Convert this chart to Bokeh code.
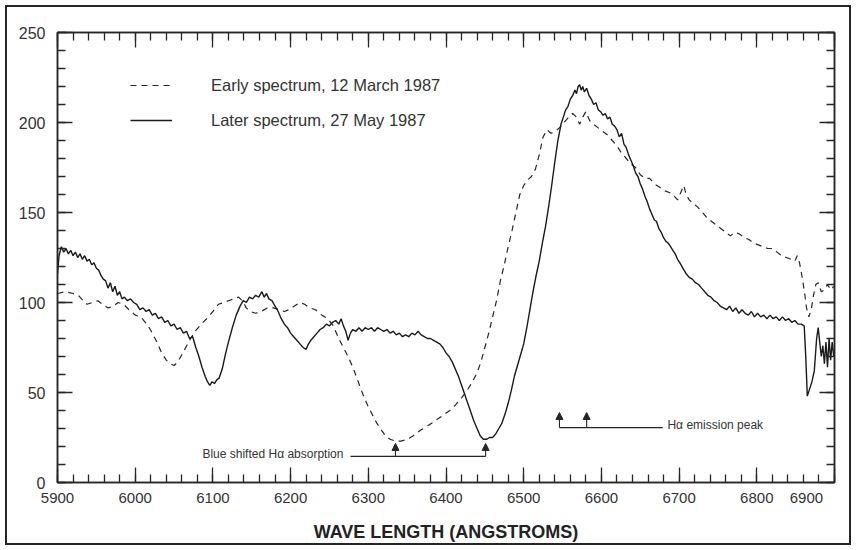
from bokeh.plotting import figure
from bokeh.models import (Range1d, LinearAxis, SingleIntervalTicker, Legend, LegendItem,
                          Arrow, NormalHead, ColumnDataSource, Label)
from bokeh.embed import file_html
from bokeh.resources import INLINE

# ---------------- data ----------------
later_wl = [5900, 5902, 5905, 5908, 5911, 5914, 5917, 5920, 5923, 5926, 5929, 5932, 5935, 5938, 5941,
            5944, 5947, 5950, 5953, 5956, 5959, 5962, 5965, 5968, 5971, 5974, 5977, 5980, 5983, 5986,
            5990, 5994, 5998, 6002, 6006, 6010, 6014, 6018, 6022, 6026, 6030, 6034, 6038, 6042, 6046,
            6050, 6054, 6058, 6062, 6066, 6070, 6074, 6078, 6082, 6086, 6090, 6093, 6096, 6099, 6102,
            6105, 6108, 6112, 6116, 6120, 6125, 6130, 6135, 6139, 6143, 6147, 6151, 6155, 6159, 6163,
            6166, 6169, 6172, 6176, 6180, 6184, 6188, 6192, 6196, 6200, 6204, 6208, 6212, 6216, 6220,
            6223, 6226, 6230, 6234, 6238, 6242, 6246, 6250, 6254, 6258, 6262, 6265, 6268, 6271, 6274,
            6277, 6280, 6284, 6288, 6292, 6296, 6300, 6304, 6308, 6312, 6316, 6320, 6324, 6328, 6332,
            6336, 6340, 6344, 6348, 6352, 6356, 6360, 6364, 6368, 6372, 6376, 6380, 6384, 6388, 6392,
            6396, 6400, 6404, 6408, 6412, 6416, 6420, 6424, 6428, 6432, 6436, 6440, 6444, 6448, 6452,
            6456, 6460, 6464, 6468, 6472, 6476, 6480, 6484, 6488, 6492, 6496, 6500, 6504, 6508, 6512,
            6516, 6520, 6524, 6528, 6532, 6536, 6540, 6544, 6548, 6551, 6554, 6557, 6560, 6563, 6566,
            6568, 6570, 6572, 6574, 6576, 6578, 6581, 6584, 6587, 6590, 6593, 6596, 6599, 6602, 6605,
            6608, 6611, 6614, 6617, 6620, 6623, 6626, 6629, 6632, 6635, 6638, 6641, 6644, 6647, 6650,
            6653, 6656, 6659, 6662, 6665, 6668, 6671, 6674, 6677, 6680, 6683, 6686, 6689, 6692, 6695,
            6698, 6701, 6705, 6709, 6713, 6717, 6721, 6725, 6729, 6733, 6737, 6741, 6745, 6749, 6753,
            6757, 6761, 6765, 6769, 6773, 6777, 6781, 6785, 6789, 6793, 6797, 6801, 6805, 6809, 6813,
            6817, 6821, 6825, 6829, 6833, 6837, 6841, 6845, 6849, 6853, 6857, 6861, 6863, 6865, 6868,
            6871, 6874, 6877, 6879, 6881, 6883, 6885, 6887, 6889, 6891, 6893, 6895, 6897, 6899]
later_val = [116, 126, 131, 128, 130, 127, 129, 126, 128, 125, 127, 124, 126, 123, 124,
             121, 122, 119, 118, 115, 113, 112, 108, 111, 106, 109, 104, 106, 102, 103,
             101, 102, 100, 99, 96, 97, 95, 96, 93, 94, 91, 92, 89, 90, 87,
             88, 85, 86, 83, 84, 80, 81, 75, 70, 64, 59, 56, 54, 56, 55,
             57, 58, 63, 71, 78, 86, 93, 98, 101, 100, 103, 102, 104, 103, 106,
             103, 105, 102, 101, 98, 95, 91, 88, 86, 83, 81, 79, 77, 75, 74,
             77, 79, 81, 83, 85, 86, 88, 87, 89, 90, 88, 91, 87, 84, 79,
             83, 85, 84, 86, 84, 86, 85, 86, 84, 86, 85, 84, 85, 83, 84,
             82, 83, 81, 82, 81, 83, 82, 84, 82, 81, 80, 80, 79, 78, 77,
             75, 72, 70, 67, 63, 59, 54, 49, 44, 39, 34, 30, 26, 24, 24,
             25, 25, 27, 30, 33, 38, 44, 51, 59, 65, 71, 77, 86, 96, 106,
             115, 123, 133, 142, 153, 165, 178, 190, 199, 203, 207, 209, 213, 215, 218,
             216, 220, 221, 218, 220, 217, 219, 215, 213, 210, 211, 207, 206, 204, 205,
             202, 203, 199, 198, 196, 192, 194, 188, 186, 182, 179, 176, 172, 170, 166,
             163, 159, 156, 152, 149, 146, 145, 141, 139, 136, 134, 133, 131, 129, 127,
             124, 122, 119, 116, 114, 113, 111, 110, 108, 106, 104, 103, 101, 100, 98,
             97, 96, 98, 95, 97, 94, 96, 94, 93, 95, 92, 94, 92, 93, 91,
             93, 91, 92, 90, 92, 90, 91, 89, 90, 88, 88, 87, 70, 48, 52,
             56, 62, 80, 86, 78, 70, 76, 66, 78, 64, 80, 68, 78, 70]

early_wl = [5900, 5910, 5920, 5927, 5933, 5938, 5945, 5952, 5958, 5965, 5972, 5978, 5985, 5992, 6000,
            6007, 6013, 6018, 6022, 6028, 6034, 6040, 6045, 6050, 6055, 6060, 6065, 6070, 6077, 6085,
            6092, 6100, 6107, 6114, 6120, 6127, 6133, 6138, 6143, 6148, 6155, 6162, 6170, 6178, 6185,
            6192, 6198, 6205, 6212, 6218, 6225, 6232, 6240, 6248, 6255, 6262, 6268, 6275, 6281, 6287,
            6293, 6300, 6306, 6311, 6317, 6322, 6328, 6335, 6342, 6350, 6358, 6367, 6375, 6385, 6395,
            6405, 6412, 6420, 6427, 6434, 6440, 6445, 6450, 6455, 6460, 6465, 6470, 6475, 6480, 6485,
            6490, 6495, 6500, 6505, 6510, 6515, 6520, 6525, 6530, 6535, 6540, 6546, 6552, 6558, 6563,
            6568, 6572, 6576, 6580, 6585, 6590, 6596, 6602, 6608, 6614, 6620, 6626, 6632, 6638, 6644,
            6650, 6656, 6662, 6668, 6675, 6682, 6688, 6694, 6698, 6702, 6706, 6709, 6713, 6718, 6724,
            6730, 6736, 6742, 6748, 6754, 6760, 6766, 6772, 6778, 6784, 6790, 6796, 6802, 6808, 6814,
            6820, 6826, 6832, 6838, 6844, 6849, 6852, 6855, 6858, 6861, 6864, 6867, 6870, 6873, 6876,
            6879, 6883, 6887, 6891, 6895, 6899]
early_val = [105, 106, 105, 104, 101, 99, 100, 101, 99, 97, 98, 100, 99, 96, 93,
             92, 89, 86, 83, 78, 72, 68, 66, 65, 67, 71, 75, 79, 84, 88,
             91, 95, 99, 100, 101, 102, 103, 101, 97, 95, 94, 95, 97, 97, 96,
             95, 96, 98, 100, 99, 97, 96, 93, 91, 87, 80, 75, 69, 63, 56,
             49, 42, 37, 33, 29, 26, 24, 23, 23, 24, 26, 29, 31, 34, 37,
             40, 43, 47, 51, 56, 61, 67, 75, 83, 92, 101, 112, 121, 131, 140,
             150, 160, 165, 168, 170, 174, 182, 192, 196, 194, 195, 197, 200, 203, 205,
             203, 199, 203, 206, 201, 199, 197, 195, 193, 190, 187, 183, 180, 177, 175,
             171, 169, 169, 166, 164, 162, 161, 159, 157, 161, 165, 160, 157, 155, 153,
             150, 147, 145, 143, 141, 139, 137, 139, 138, 136, 135, 133, 132, 131, 130,
             130, 128, 126, 125, 124, 123, 126, 122, 115, 107, 97, 92, 96, 104, 110,
             111, 106, 107, 110, 107, 109]

series_labels = ["Early spectrum, 12 March 1987", "Later spectrum, 27 May 1987"]
x_title = "WAVE LENGTH (ANGSTROMS)"

# annotation values
absorption_wl = [6335, 6451]
absorption_base = 14.5
absorption_tip = 21.7
absorption_line = [6277, 6451]
absorption_text = "Blue shifted H\u03b1 absorption"
emission_wl = [6546, 6581]
emission_base = 30.5
emission_tip = 38.9
emission_line = [6546, 6679]
emission_text = "H\u03b1 emission peak"

INK = "#262626"
TXT = "#333333"
FONT = "Liberation Sans"

p = figure(width=856, height=550, output_backend="svg", toolbar_location=None,
           x_range=Range1d(5900, 6900), y_range=Range1d(0, 250),
           x_axis_location=None, y_axis_location=None,
           min_border_left=57, min_border_right=22, min_border_top=32, min_border_bottom=68)
p.background_fill_color = "white"
p.border_fill_alpha = 0
p.grid.visible = False
p.outline_line_color = INK
p.outline_line_width = 1.5
# outer panel border of the figure (drawn by the page, around the canvas)
p.styles = {"background-color": "white",
            "box-shadow": "inset 0 0 0 5px white, inset 0 0 0 7px #262626"}


def style_axis(ax, labels=True):
    ax.axis_line_color = INK
    ax.axis_line_width = 1.5
    ax.major_tick_in = 15
    ax.major_tick_out = 0
    ax.minor_tick_in = 8
    ax.minor_tick_out = 0
    ax.major_tick_line_color = INK
    ax.minor_tick_line_color = INK
    ax.major_tick_line_width = 1.3
    ax.minor_tick_line_width = 1.3
    if labels:
        ax.major_label_text_font = FONT
        ax.major_label_text_font_size = "15px"
        ax.major_label_text_color = TXT
    else:
        ax.major_label_text_font_size = "0px"
        ax.major_label_text_alpha = 0
        ax.major_label_standoff = 0


xb = LinearAxis(ticker=SingleIntervalTicker(interval=100, num_minor_ticks=5))
style_axis(xb)
xb.major_label_standoff = 6
# last label sits inside the panel, as in the original (pad with figure spaces)
xb.major_label_overrides = {6900: "6900\u2007\u2007\u2007\u2007"}
xb.axis_label = x_title
xb.axis_label_text_font = FONT
xb.axis_label_text_font_style = "bold"
xb.axis_label_text_font_size = "18px"
xb.axis_label_text_color = "#222222"
xb.axis_label_standoff = 13
p.add_layout(xb, "below")

xt = LinearAxis(ticker=SingleIntervalTicker(interval=100, num_minor_ticks=5))
style_axis(xt, labels=False)
p.add_layout(xt, "above")

yl = LinearAxis(ticker=SingleIntervalTicker(interval=50, num_minor_ticks=5))
style_axis(yl)
yl.major_label_text_font_size = "16px"
yl.major_label_standoff = 12
p.add_layout(yl, "left")

yr = LinearAxis(ticker=SingleIntervalTicker(interval=50, num_minor_ticks=5))
style_axis(yr, labels=False)
p.add_layout(yr, "right")

r_early = p.line(early_wl, early_val, line_color=INK, line_width=1.2, line_dash="6 5")
r_later = p.line(later_wl, later_val, line_color="#1a1a1a", line_width=1.4)

legend = Legend(items=[LegendItem(label=series_labels[0], renderers=[r_early]),
                       LegendItem(label=series_labels[1], renderers=[r_later])],
                location=(73, 352), orientation="vertical",
                glyph_width=42, glyph_height=20, label_height=20, spacing=15,
                label_standoff=39, padding=0, margin=0,
                border_line_alpha=0, background_fill_alpha=0,
                label_text_font=FONT, label_text_font_size="16.5px", label_text_color=TXT)
p.add_layout(legend)

# annotation lines
p.segment(x0=[absorption_line[0], emission_line[0]], y0=[absorption_base, emission_base],
          x1=[absorption_line[1], emission_line[1]], y1=[absorption_base, emission_base],
          line_color=INK, line_width=1.1)

arr_src = ColumnDataSource(dict(
    x0=absorption_wl + emission_wl,
    y0=[absorption_base] * 2 + [emission_base] * 2,
    x1=absorption_wl + emission_wl,
    y1=[absorption_tip] * 2 + [emission_tip] * 2))
p.add_layout(Arrow(source=arr_src, x_start="x0", y_start="y0", x_end="x1", y_end="y1",
                   line_color=INK, line_width=1.1,
                   end=NormalHead(size=7, fill_color=INK, line_color=INK, line_width=1)))

p.add_layout(Label(x=6268, y=16.1, text=absorption_text, text_align="right",
                   text_baseline="middle", text_font=FONT, text_font_size="12px",
                   text_color=TXT))
p.add_layout(Label(x=6685, y=32.2, text=emission_text, text_align="left",
                   text_baseline="middle", text_font=FONT, text_font_size="12px",
                   text_color=TXT))

open("out.html", "w").write(file_html(p, INLINE))
